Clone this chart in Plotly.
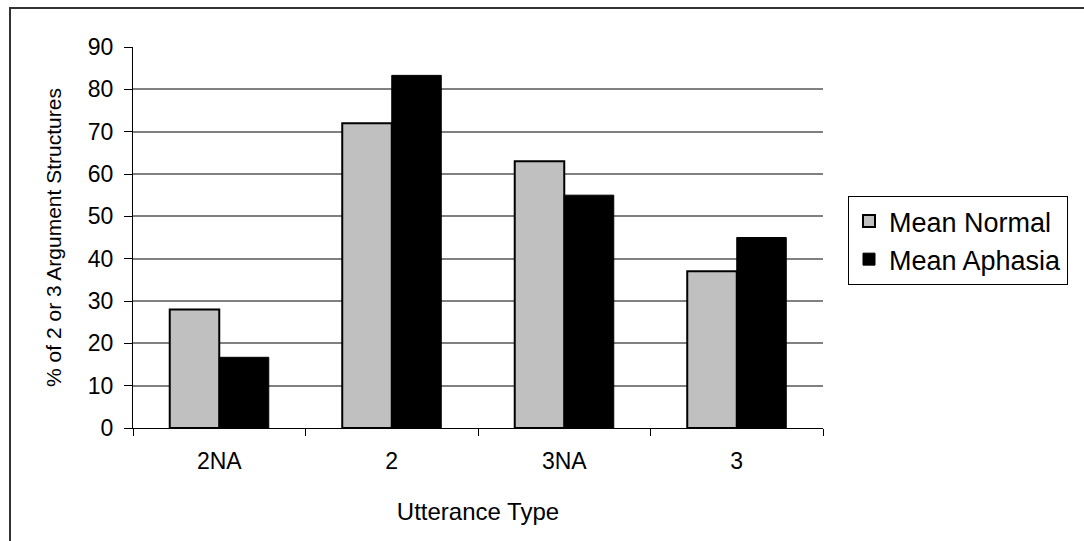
import plotly.graph_objects as go

# Share of 2- or 3-argument structures by utterance type
categories = ["2NA", "2", "3NA", "3"]
mean_normal = [28, 72, 63, 37]
mean_aphasia = [16.7, 83.3, 55, 45]
y_ticks = [0, 10, 20, 30, 40, 50, 60, 70, 80, 90]

W, H = 1084, 541
L, R, T, B = 133, 261, 47, 113
pw, ph = W - L - R, H - T - B

def px_x(px):
    return (px - L) / pw

def px_y(py):
    return (H - B - py) / ph

FONT = "Liberation Sans, Arial, sans-serif"

fig = go.Figure()
fig.add_trace(go.Bar(
    x=categories, y=mean_normal, name="Mean Normal",
    marker=dict(color="#c0c0c0", line=dict(color="black", width=2)),
))
fig.add_trace(go.Bar(
    x=categories, y=mean_aphasia, name="Mean Aphasia",
    marker=dict(color="black", line=dict(color="black", width=1)),
))

fig.update_layout(
    width=W, height=H,
    margin=dict(l=L, r=R, t=T, b=B, autoexpand=False),
    paper_bgcolor="white", plot_bgcolor="white",
    barmode="group", bargap=0.426, bargroupgap=0,
    font=dict(family=FONT, color="black", size=21),
    legend=dict(
        x=px_x(848), y=px_y(196), xanchor="left", yanchor="top",
        bordercolor="black", borderwidth=1, bgcolor="white",
        font=dict(size=27), itemwidth=30, tracegroupgap=0,
    ),
    shapes=[dict(
        type="rect", xref="paper", yref="paper",
        x0=px_x(10), x1=px_x(1100), y0=px_y(560), y1=px_y(8),
        line=dict(color="#333333", width=2), layer="below",
    )],
)

fig.update_xaxes(
    showline=True, linecolor="black", linewidth=1,
    ticks="outside", tickson="boundaries", ticklen=7, tickcolor="black",
    tickfont=dict(size=23), ticklabelstandoff=12,
    title=dict(text="Utterance Type", font=dict(size=24), standoff=30),
)
fig.update_yaxes(
    range=[0, 90], tickvals=y_ticks,
    showline=True, linecolor="black", linewidth=1,
    ticks="outside", ticklen=8, tickcolor="black",
    showgrid=True, gridcolor="#808080", gridwidth=1.5,
    zeroline=False, tickfont=dict(size=23), ticklabelstandoff=6,
    title=dict(text="% of 2 or 3 Argument Structures", font=dict(size=21), standoff=20),
)

fig.write_html("out.html")
